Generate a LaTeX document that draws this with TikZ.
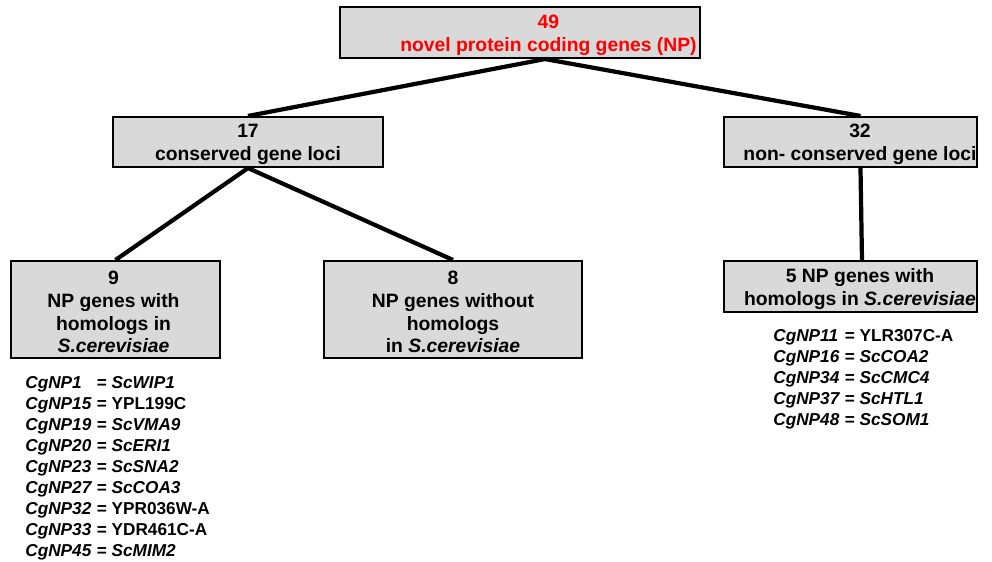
\documentclass[tikz,border=0pt]{standalone}
\usepackage{fontspec}
\setmainfont{Liberation Sans}
\tikzset{
  box/.style={draw, line width=1.2pt, fill=black!15, inner sep=0pt},
  boxtext/.style={align=center, font=\bfseries\fontsize{11}{13}\selectfont, inner sep=0pt, yshift=-0.05cm},
  link/.style={line width=2.4pt},
  genes/.style={font=\bfseries\fontsize{9.8}{12}\selectfont, inner sep=0pt}
}
\newcommand{\cgnp}[1]{\textit{CgNP#1}}
\newcommand{\scgene}[1]{\textit{Sc#1}}
\begin{document}
\begin{tikzpicture}[x=0.02cm, y=-0.02cm]
\useasboundingbox (0,0) rectangle (992,562);
\node[box, minimum width=7.2cm, minimum height=1.02cm,
  label={[boxtext, text=red, xshift=0.57cm]center:{49\\novel protein coding genes (NP)}}] (np) at (520,32.5) {};
\node[box, minimum width=5.4cm, minimum height=1cm,
  label={[boxtext]center:{17\\conserved gene loci}}] (cons) at (248,142) {};
\node[box, minimum width=5.06cm, minimum height=1cm,
  label={[boxtext, xshift=0.19cm]center:{32\\non- conserved gene loci}}] (noncons) at (850.5,142) {};
\node[box, minimum width=4.18cm, minimum height=1.94cm,
  label={[boxtext, xshift=-0.04cm]center:{9\\NP genes with\\homologs in\\\textit{S.cerevisiae}}}] (with) at (115.5,309.5) {};
\node[box, minimum width=5.16cm, minimum height=1.94cm,
  label={[boxtext]center:{8\\NP genes without\\homologs\\in \textit{S.cerevisiae}}}] (without) at (453,309.5) {};
\node[box, minimum width=5.06cm, minimum height=1.02cm,
  label={[boxtext, xshift=0.19cm]center:{5 NP genes with\\homologs in \textit{S.cerevisiae}}}] (homologs) at (850.5,286.5) {};
\draw[link] ([xshift=0.5cm]np.south) -- (cons.north);
\draw[link] ([xshift=0.5cm]np.south) -- ([xshift=0.2cm]noncons.north);
\draw[link] (cons.south) -- (with.north);
\draw[link] (cons.south) -- (without.north);
\draw[link] ([xshift=0.2cm]noncons.south) -- ([xshift=0.23cm]homologs.north);
% gene lists
\node[genes, anchor=north west] (leftlist) at (25,373) {\begin{tabular}{@{}l@{ = }l@{}}
\cgnp{1} & \scgene{WIP1}\\
\cgnp{15} & YPL199C\\
\cgnp{19} & \scgene{VMA9}\\
\cgnp{20} & \scgene{ERI1}\\
\cgnp{23} & \scgene{SNA2}\\
\cgnp{27} & \scgene{COA3}\\
\cgnp{32} & YPR036W-A\\
\cgnp{33} & YDR461C-A\\
\cgnp{45} & \scgene{MIM2}
\end{tabular}};
\node[genes, anchor=north west] (rightlist) at (773,326) {\begin{tabular}{@{}l@{ = }l@{}}
\cgnp{11} & YLR307C-A\\
\cgnp{16} & \scgene{COA2}\\
\cgnp{34} & \scgene{CMC4}\\
\cgnp{37} & \scgene{HTL1}\\
\cgnp{48} & \scgene{SOM1}
\end{tabular}};
\end{tikzpicture}
\end{document}
